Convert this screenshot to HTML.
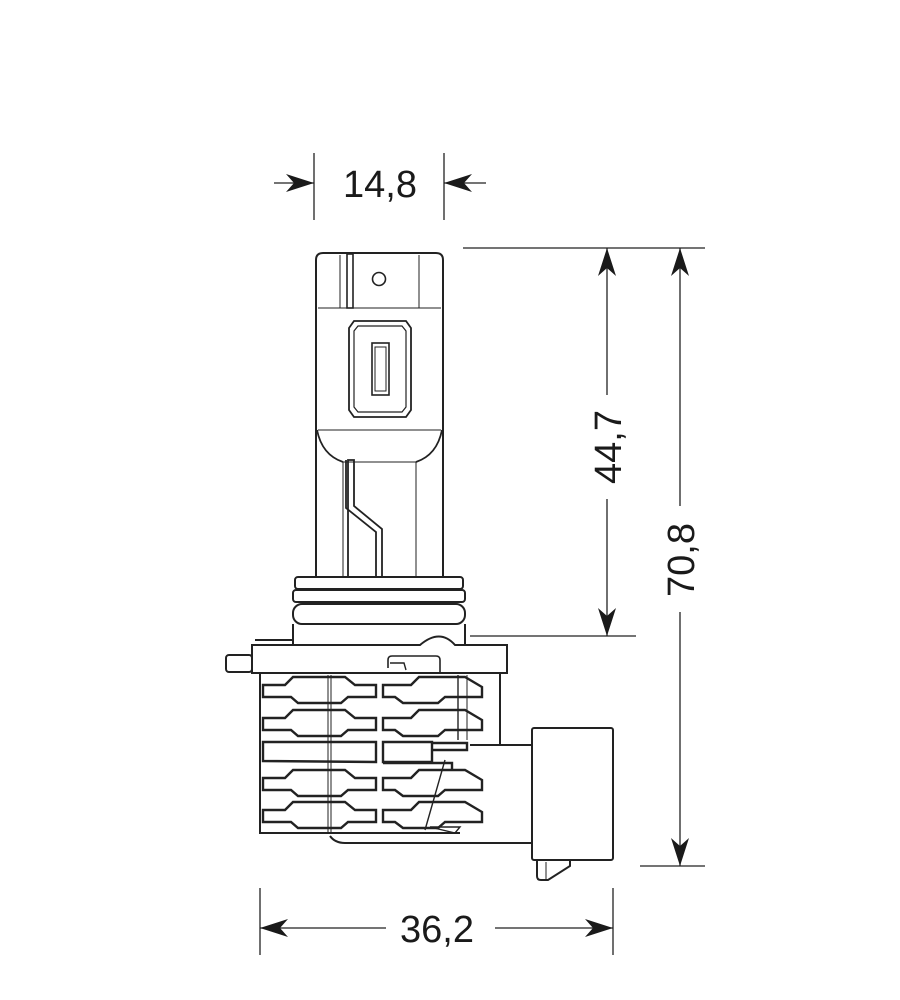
<!DOCTYPE html>
<html><head><meta charset="utf-8"><style>
html,body{margin:0;padding:0;background:#fff;}
svg{display:block;}
text{font-family:"Liberation Sans",sans-serif;fill:#1a1a1a;}
</style></head><body>
<svg width="900" height="1000" viewBox="0 0 900 1000" xmlns="http://www.w3.org/2000/svg">
<defs>
<marker id="a" viewBox="0 0 28 18" refX="28" refY="9" markerWidth="28" markerHeight="18" markerUnits="userSpaceOnUse" orient="auto">
<path d="M0,0 L28,9 L0,18 L8,9 Z" fill="#1a1a1a"/>
</marker>
<g id="finL"><path d="M0,8 L22,8 L30,0 L82,0 L92,8 L113,8 L113,20 L85,20 L78,26 L35,26 L28,20 L0,20 Z" fill="none" stroke="#222" stroke-width="2.4"/></g>
<g id="finR"><path d="M0,8 L28,8 L36,0 L82,0 L99,10 L99,20 L82,20 L62,20 L55,26 L20,26 L12,20 L0,20 Z" fill="none" stroke="#222" stroke-width="2.4"/></g>
</defs>
<g stroke="#222" fill="none" stroke-width="1.3">
<line x1="314" y1="153" x2="314" y2="220"/>
<line x1="444" y1="153" x2="444" y2="220"/>
<line x1="274" y1="183" x2="314" y2="183" marker-end="url(#a)"/>
<line x1="486" y1="183" x2="444" y2="183" marker-end="url(#a)"/>
<line x1="463" y1="248" x2="705" y2="248"/>
<line x1="470" y1="636" x2="636" y2="636"/>
<line x1="607" y1="395" x2="607" y2="248" marker-end="url(#a)"/>
<line x1="607" y1="499" x2="607" y2="636" marker-end="url(#a)"/>
<line x1="640" y1="866" x2="705" y2="866"/>
<line x1="680" y1="506" x2="680" y2="248" marker-end="url(#a)"/>
<line x1="680" y1="612" x2="680" y2="866" marker-end="url(#a)"/>
<line x1="260" y1="888" x2="260" y2="955"/>
<line x1="613" y1="888" x2="613" y2="955"/>
<line x1="386" y1="928" x2="260" y2="928" marker-end="url(#a)"/>
<line x1="495" y1="928" x2="613" y2="928" marker-end="url(#a)"/>
</g>
<text x="380" y="197" font-size="38" text-anchor="middle">14,8</text>
<text x="437" y="942" font-size="38" text-anchor="middle">36,2</text>
<text transform="translate(621,447) rotate(-90)" font-size="38" text-anchor="middle">44,7</text>
<text transform="translate(694,560) rotate(-90)" font-size="38" text-anchor="middle">70,8</text>

<g stroke="#222" fill="none" stroke-width="2">
<path d="M316,577 L316,260 Q316,253 323,253 L436,253 Q443,253 443,260 L443,577"/>
<line x1="318" y1="308" x2="441" y2="308" stroke-width="1"/>
<line x1="340" y1="255" x2="340" y2="308" stroke-width="1"/>
<line x1="419" y1="255" x2="419" y2="308" stroke-width="1"/>
<rect x="347" y="254" width="6" height="54" stroke-width="1.6"/>
<circle cx="379" cy="279" r="6.5" stroke-width="1.6"/>
<path d="M354,321 L406,321 L411,328 L411,410 L406,417 L354,417 L349,410 L349,328 Z" stroke-width="1.8"/>
<path d="M358,326 L402,326 L406,331 L406,407 L402,412 L358,412 L354,407 L354,331 Z" stroke-width="1.2"/>
<rect x="372" y="343" width="17" height="52" stroke-width="1.6"/>
<rect x="375" y="347" width="11" height="44" stroke-width="1"/>
<line x1="318" y1="430" x2="441" y2="430" stroke-width="1"/>
<path d="M317,430 Q322,455 343,462" stroke-width="1.8"/>
<path d="M442,430 Q437,455 416,462" stroke-width="1.8"/>
<line x1="343" y1="462" x2="416" y2="462" stroke-width="1"/>
<line x1="343" y1="462" x2="343" y2="577" stroke-width="1"/>
<line x1="416" y1="462" x2="416" y2="577" stroke-width="1"/>
<path d="M348,577 L348,460 L354,460 L354,506 L382,529 L382,577" stroke-width="1.8"/>
<path d="M346,460 L346,508 L376,532 L376,577" stroke-width="1.8"/>
<rect x="295" y="577" width="168" height="12" rx="3"/>
<rect x="293" y="590" width="172" height="12" rx="3"/>
<rect x="293" y="604" width="172" height="20" rx="9"/>
<line x1="293" y1="624" x2="293" y2="645"/>
<line x1="465" y1="624" x2="465" y2="645"/>
<path d="M252,645 L252,673 L507,673 L507,645 L455,645 Q440,628 420,645 Z"/>
<path d="M255,640 L293,640"/>
<rect x="226" y="655" width="26" height="17" rx="3"/>
<path d="M388,668 L388,660 Q388,656 392,656 L436,656 Q440,656 440,660 L440,673" stroke-width="1.6"/>
<path d="M390,663 L404,663 L406,670" stroke-width="1.4"/>
<path d="M260,673 L260,833 L460,833"/>
<line x1="500" y1="673" x2="500" y2="745"/>
<path d="M470,745 L532,745" />
<path d="M330,836 Q335,843 345,843 L532,843"/>
<line x1="328" y1="675" x2="328" y2="832" stroke-width="1"/>
<line x1="331" y1="675" x2="331" y2="832" stroke-width="1"/>
<line x1="458" y1="675" x2="458" y2="740" stroke-width="1.4"/>
<line x1="467" y1="675" x2="467" y2="740" stroke-width="1"/>
<path d="M445,760 L425,830" stroke-width="1.4"/>
<path d="M430,827 L460,827 L455,833 Z" stroke-width="1.4"/>
<rect x="532" y="728" width="81" height="132" rx="2"/>
<path d="M537,860 L537,876 Q537,880 541,880 L548,880 L570,866 L570,860"/>
<line x1="546" y1="862" x2="546" y2="880" stroke-width="1"/>
</g>
<g>
<use href="#finL" transform="translate(263,677)"/>
<use href="#finL" transform="translate(263,710)"/>
<use href="#finL" transform="translate(263,802)"/>
<use href="#finL" transform="translate(263,770)"/>
<use href="#finR" transform="translate(383,677)"/>
<use href="#finR" transform="translate(383,710)"/>
<use href="#finR" transform="translate(383,770)"/>
<use href="#finR" transform="translate(383,802)"/>
</g>
<g stroke="#222" fill="none" stroke-width="2.4">
<path d="M263,742 L376,742 L376,762 L263,761 Z"/>
<path d="M383,742 L432,742 L432,762 L383,762 Z"/>
<path d="M432,743 L467,743 L467,750 L432,750"/>
<path d="M383,763 L452,763 L452,770"/>
</g>
</svg>
</body></html>
